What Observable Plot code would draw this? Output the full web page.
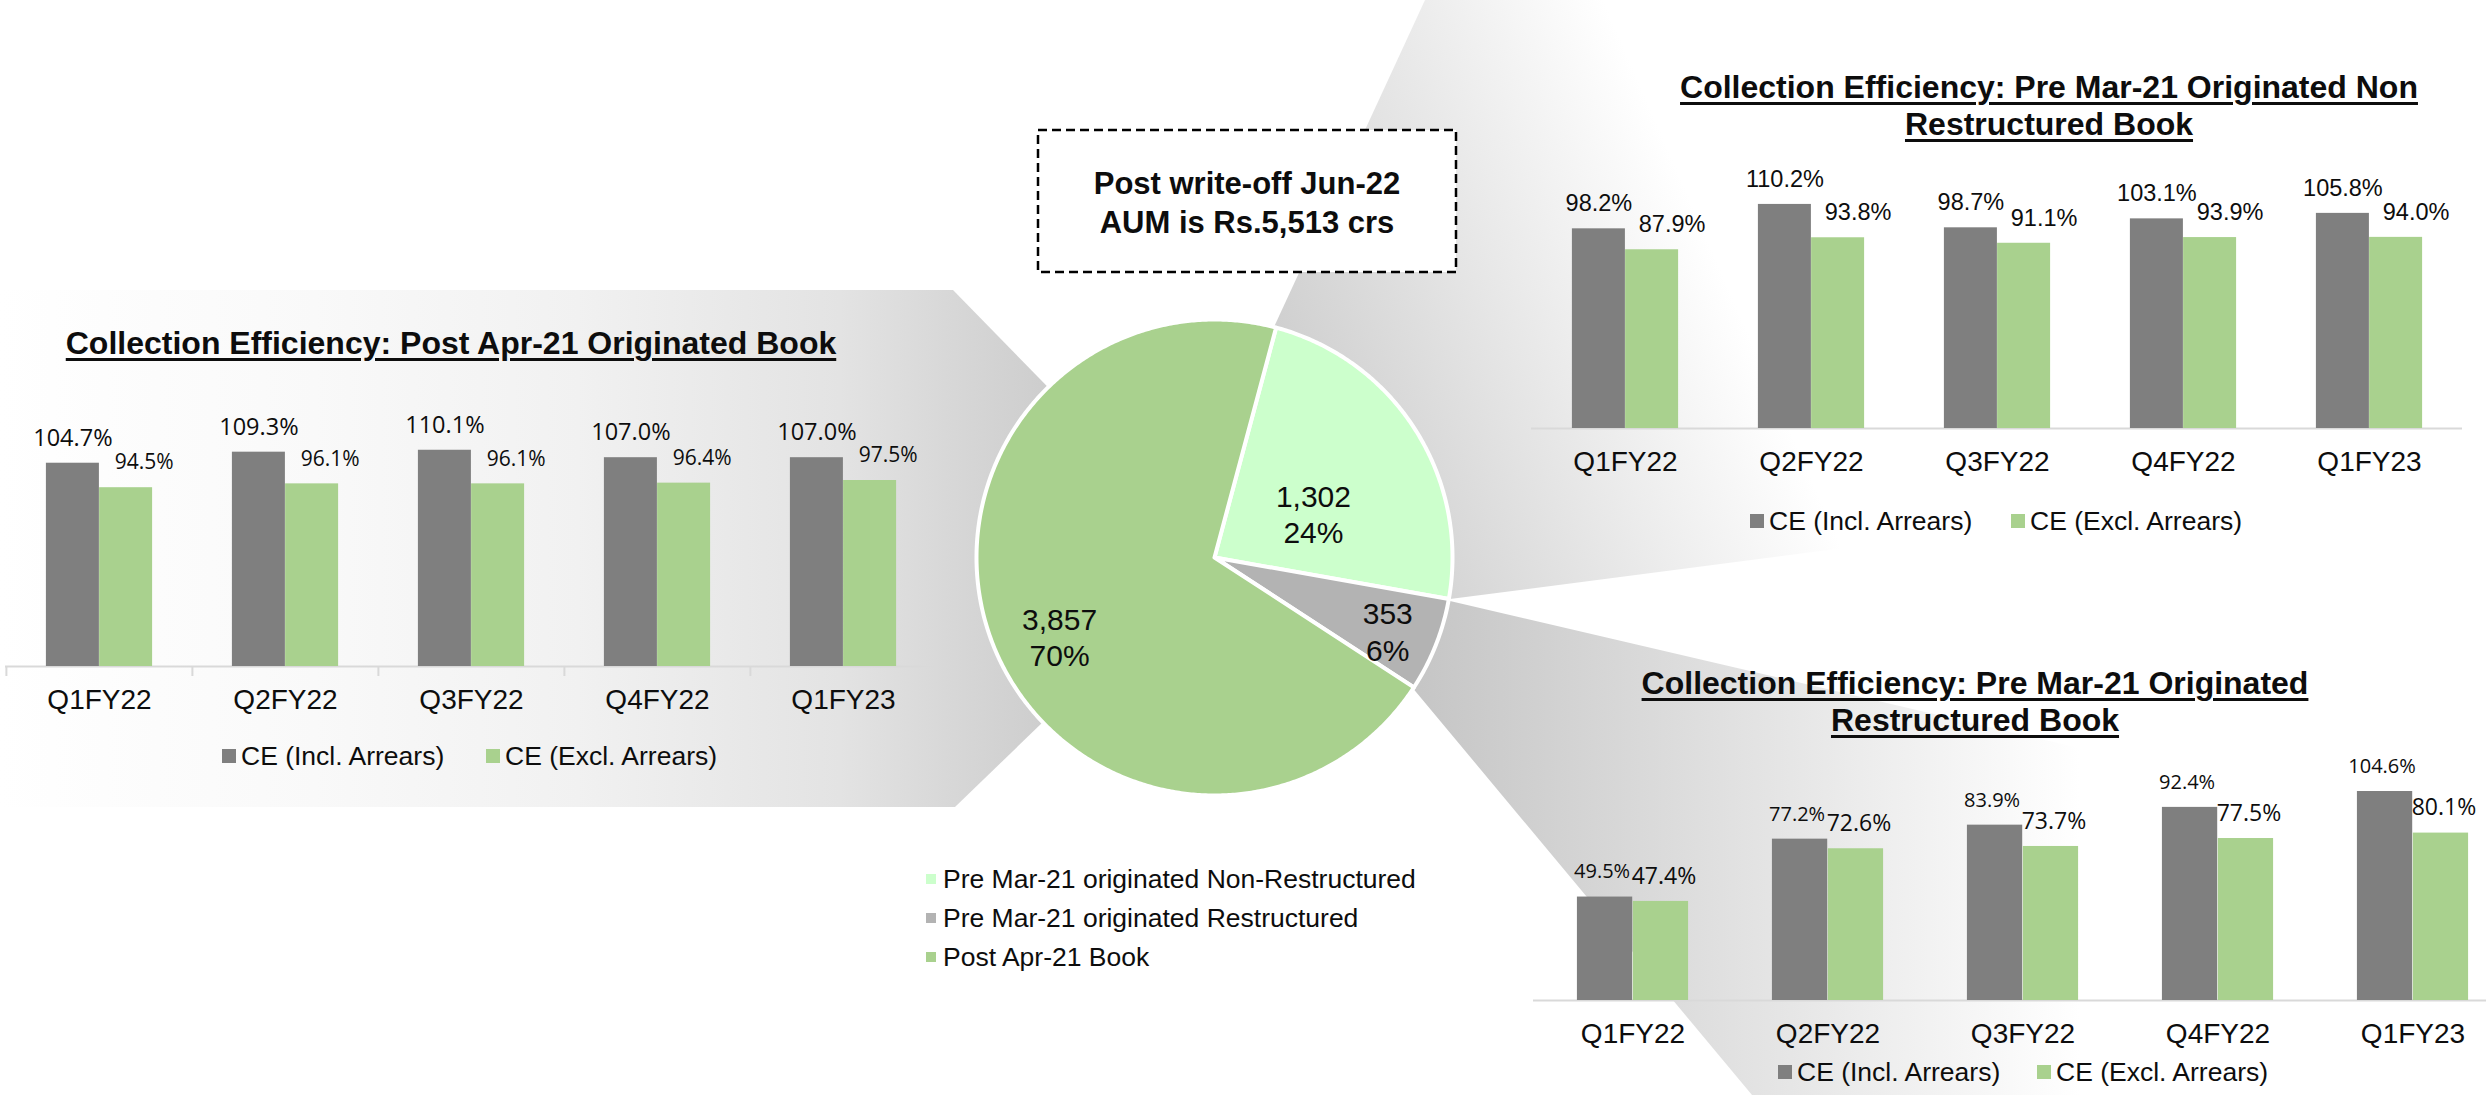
<!DOCTYPE html>
<html>
<head>
<meta charset="utf-8">
<script src="https://cdn.jsdelivr.net/npm/d3@7"></script>
<script src="https://cdn.jsdelivr.net/npm/@observablehq/plot@0.6"></script>
<style>
  html, body { margin: 0; padding: 0; background: #fff; overflow: hidden; }
  #page { position: relative; width: 2486px; height: 1095px; overflow: hidden; background: #fff;
          font-family: "Liberation Sans", Arial, Helvetica, sans-serif; color: #0d0d0d; }
  .title { position: absolute; font-weight: bold; font-size: 32px; line-height: 36.5px; white-space: nowrap;
           text-align: center; transform: translateX(-50%); text-decoration: underline;
           text-decoration-thickness: 3px; text-underline-offset: 4px; }
  .lg { position: absolute; display: flex; align-items: center; white-space: nowrap; height: 32px; line-height: 32px; font-size: 26.5px; }
  .sw { display: inline-block; width: 14px; height: 14px; margin-right: 5px; }
  .plg { position: absolute; display: flex; align-items: center; white-space: nowrap; height: 32px; line-height: 32px; font-size: 26.5px; }
  .psw { display: inline-block; width: 10px; height: 10px; margin-right: 7px; }
  .boxtxt { position: absolute; font-weight: bold; font-size: 31px; line-height: 39px; text-align: center; white-space: nowrap; transform: translateX(-50%); }
</style>
</head>
<body>
<div id="page"></div>
<script>
// ---------------- DATA ----------------
const quarters = ["Q1FY22", "Q2FY22", "Q3FY22", "Q4FY22", "Q1FY23"];
const seriesNames = ["CE (Incl. Arrears)", "CE (Excl. Arrears)"];
const seriesColors = ["#7f7f7f", "#a9d18e"];

const postAprIncl = [104.7, 109.3, 110.1, 107.0, 107.0];
const postAprExcl = [94.5, 96.1, 96.1, 96.4, 97.5];

const nonRestrIncl = [98.2, 110.2, 98.7, 103.1, 105.8];
const nonRestrExcl = [87.9, 93.8, 91.1, 93.9, 94.0];

const restrIncl = [49.5, 77.2, 83.9, 92.4, 104.6];
const restrExcl = [47.4, 72.6, 73.7, 77.5, 80.1];

const pieCategories = ["Pre Mar-21 originated Non-Restructured", "Pre Mar-21 originated Restructured", "Post Apr-21 Book"];
const pieValues = [1302, 353, 3857];
const pieColors = ["#ccffcc", "#b3b3b3", "#a9d18e"];

const titles = {
  post: ["Collection Efficiency: Post Apr-21 Originated Book"],
  nonRestr: ["Collection Efficiency: Pre Mar-21 Originated Non", "Restructured Book"],
  restr: ["Collection Efficiency: Pre Mar-21 Originated", "Restructured Book"]
};
const boxLines = ["Post write-off Jun-22", "AUM is Rs.5,513 crs"];

// ---------------- LAYOUT ----------------
const SANS = '"Liberation Sans", Arial, Helvetica, sans-serif';
const OPEN = '"Open Sans", "Liberation Sans", Arial, sans-serif';
const TXT = "#0d0d0d";
const page = document.getElementById("page");

// decorative callout wedges (background)
const bg = d3.select(page).append("svg")
  .attr("width", 2486).attr("height", 1095)
  .style("position", "absolute").style("left", "0px").style("top", "0px");
const defs = bg.append("defs");
function grad(id, x1, y1, x2, y2, stops) {
  const g = defs.append("linearGradient").attr("id", id).attr("gradientUnits", "userSpaceOnUse")
    .attr("x1", x1).attr("y1", y1).attr("x2", x2).attr("y2", y2);
  stops.forEach(([o, c]) => g.append("stop").attr("offset", o).attr("stop-color", c));
}
grad("gL", 0, 0, 1050, 0, [[0, "#ffffff"], [0.3, "#f9f9f9"], [0.55, "#f1f1f1"], [0.8, "#e3e3e3"], [1, "#cdcdcd"]]);
grad("gT", 1300, 560, 1760, 360, [[0, "#c8c8c8"], [1, "#ffffff"]]);
grad("gB", 1420, 650, 2080, 650, [[0, "#c6c6c6"], [1, "#ffffff"]]);
bg.append("polygon").attr("points", "0,290 953,290 1214,557 955,807 0,807").attr("fill", "url(#gL)");
bg.append("polygon").attr("points", "1425,0 2486,0 2486,465 1450,599 1214,557 1274,327").attr("fill", "url(#gT)");
bg.append("polygon").attr("points", "1214,557 1450,601 2486,843 2486,1095 1752,1095 1411,686").attr("fill", "url(#gB)");

// dashed AUM box
const box = d3.select(page).append("svg").attr("width", 432).attr("height", 156)
  .style("position", "absolute").style("left", "1032px").style("top", "124px");
box.append("rect").attr("x", 6).attr("y", 6).attr("width", 418).attr("height", 142)
  .attr("fill", "#fff").attr("stroke", "#000").attr("stroke-width", 2.5).attr("stroke-dasharray", "9 5");
const bt = document.createElement("div");
bt.className = "boxtxt";
bt.style.left = "1247px"; bt.style.top = "164px";
bt.innerHTML = boxLines.join("<br>");
page.appendChild(bt);

// ---------------- BAR CHARTS ----------------
function barChart(o) {
  const data = quarters.map((q, i) => ({q, incl: o.incl[i], excl: o.excl[i]}));
  const plotW = o.width - 10;
  const bw = plotW / quarters.length;
  const barW = bw / 3.5;
  const gap = (bw - 2 * barW) / 2;
  const [y0, yMax] = o.yDomain;
  const pxPerUnit = o.plotHeight / (yMax - y0);
  const fmt = v => v.toFixed(1) + "%";
  const marks = [
    Plot.ruleY([y0], {stroke: "#d9d9d9", strokeWidth: 2}),
    Plot.barY(data, {x: "q", y1: y0, y2: "incl", fill: seriesColors[0], insetLeft: gap, insetRight: gap + barW, clip: true}),
    Plot.barY(data, {x: "q", y1: y0, y2: "excl", fill: seriesColors[1], insetLeft: gap + barW, insetRight: gap, clip: true}),
    Plot.text(data, {x: "q", y: d => Math.min(d.incl, yMax), text: d => fmt(d.incl), dx: -barW / 2 + o.inclDx, dy: -25,
      fontSize: o.inclSize, fontFamily: o.labelFont, fill: TXT}),
    Plot.text(data, {x: "q", y: d => Math.min(d.excl, yMax), text: d => fmt(d.excl), dx: barW / 2 + o.exclDx, dy: -25,
      fontSize: o.exclSize, fontFamily: o.labelFont, fill: TXT}),
    Plot.text(quarters, {x: d => d, y: y0, text: d => d, dy: 34, fontSize: 28, fontFamily: SANS, fill: TXT})
  ];
  if (o.ticks) {
    marks.push(Plot.ruleX(quarters, {x: d => d, dx: -bw / 2, y1: y0, y2: y0 - 10 / pxPerUnit, stroke: "#d9d9d9", strokeWidth: 2}));
    marks.push(Plot.ruleX(quarters.slice(-1), {x: d => d, dx: bw / 2, y1: y0, y2: y0 - 10 / pxPerUnit, stroke: "#d9d9d9", strokeWidth: 2}));
  }
  const svg = Plot.plot({
    width: o.width,
    height: o.marginTop + o.plotHeight + o.marginBottom,
    marginLeft: 5, marginRight: 5, marginTop: o.marginTop, marginBottom: o.marginBottom,
    x: {domain: quarters, padding: 0, axis: null},
    y: {domain: o.yDomain, axis: null},
    style: `position:absolute;left:${o.left}px;top:${o.top}px;background:none;overflow:visible;max-width:none;`,
    marks
  });
  page.appendChild(svg);
}

function addTitle(lines, cx, top) {
  const d = document.createElement("div");
  d.className = "title";
  d.style.left = cx + "px"; d.style.top = top + "px";
  d.innerHTML = lines.join("<br>");
  page.appendChild(d);
}
function addLegend(items) {
  items.forEach(([x, cy, i]) => {
    const d = document.createElement("div");
    d.className = "lg";
    d.style.left = x + "px"; d.style.top = (cy - 16) + "px";
    d.innerHTML = `<span class="sw" style="background:${seriesColors[i]}"></span>${seriesNames[i]}`;
    page.appendChild(d);
  });
}

// Left: Post Apr-21
barChart({incl: postAprIncl, excl: postAprExcl, left: 0, top: 380, width: 941,
  marginTop: 46, plotHeight: 240, marginBottom: 60, yDomain: [20, 120],
  labelFont: OPEN, inclSize: 23.5, exclSize: 21, inclDx: 0, exclDx: 18, ticks: true});
addTitle(titles.post, 451, 325);
addLegend([[222, 756, 0], [486, 756, 1]]);

// Top right: Non-restructured
barChart({incl: nonRestrIncl, excl: nonRestrExcl, left: 1526, top: 150, width: 941,
  marginTop: 34, plotHeight: 244, marginBottom: 60, yDomain: [0, 120],
  labelFont: SANS, inclSize: 23.5, exclSize: 23.5, inclDx: 0, exclDx: 20, ticks: false});
addTitle(titles.nonRestr, 2049, 69);
addLegend([[1750, 520.5, 0], [2011, 520.5, 1]]);

// Bottom right: Restructured
barChart({incl: restrIncl, excl: restrExcl, left: 1528, top: 731, width: 988,
  marginTop: 60, plotHeight: 209, marginBottom: 50, yDomain: [0, 100],
  labelFont: OPEN, inclSize: 20, exclSize: 23, inclDx: -3, exclDx: 3, ticks: false});
addTitle(titles.restr, 1975, 665);
addLegend([[1778, 1072, 0], [2037, 1072, 1]]);

// ---------------- PIE ----------------
const R = 238, half = 260;
const start = 15 * Math.PI / 180;
const arcs = d3.pie().sort(null).startAngle(start).endAngle(start + 2 * Math.PI)(pieValues);
const total = d3.sum(pieValues);
const slices = arcs.map((a, i) => {
  const pts = [{x: 0, y: 0}];
  const n = Math.max(8, Math.ceil((a.endAngle - a.startAngle) / (Math.PI / 360)));
  for (let k = 0; k <= n; k++) {
    const t = a.startAngle + (a.endAngle - a.startAngle) * k / n;
    pts.push({x: R * Math.sin(t), y: R * Math.cos(t)});
  }
  pts.push({x: 0, y: 0});
  return {pts, color: pieColors[i]};
});
// label placement (radius fraction, angle tweak in degrees)
const pieLabelPlace = [[0.455, 8.5], [0.79, 1.3], [0.73, -6]];
const pieLabels = arcs.map((a, i) => {
  const m = (a.startAngle + a.endAngle) / 2 + pieLabelPlace[i][1] * Math.PI / 180;
  const rr = pieLabelPlace[i][0] * R;
  return {x: rr * Math.sin(m), y: rr * Math.cos(m),
    text: d3.format(",")(pieValues[i]) + "\n" + Math.round(pieValues[i] / total * 100) + "%"};
});
const pie = Plot.plot({
  width: 2 * half, height: 2 * half, margin: 0,
  x: {domain: [-half, half], axis: null},
  y: {domain: [-half, half], axis: null},
  style: `position:absolute;left:${1214 - half}px;top:${557 - half}px;background:none;overflow:visible;max-width:none;`,
  marks: [
    ...slices.map(s => Plot.line(s.pts, {x: "x", y: "y", fill: s.color, stroke: "#ffffff", strokeWidth: 4, strokeLinejoin: "round"})),
    Plot.text(pieLabels, {x: "x", y: "y", text: "text", fontSize: 30, lineHeight: 1.22, fontFamily: SANS, fill: TXT})
  ]
});
page.appendChild(pie);

// pie legend
pieCategories.forEach((c, i) => {
  const d = document.createElement("div");
  d.className = "plg";
  d.style.left = "926px"; d.style.top = (879 + 39 * i - 16) + "px";
  d.innerHTML = `<span class="psw" style="background:${pieColors[i]}"></span>${c}`;
  page.appendChild(d);
});
</script>
</body>
</html>
